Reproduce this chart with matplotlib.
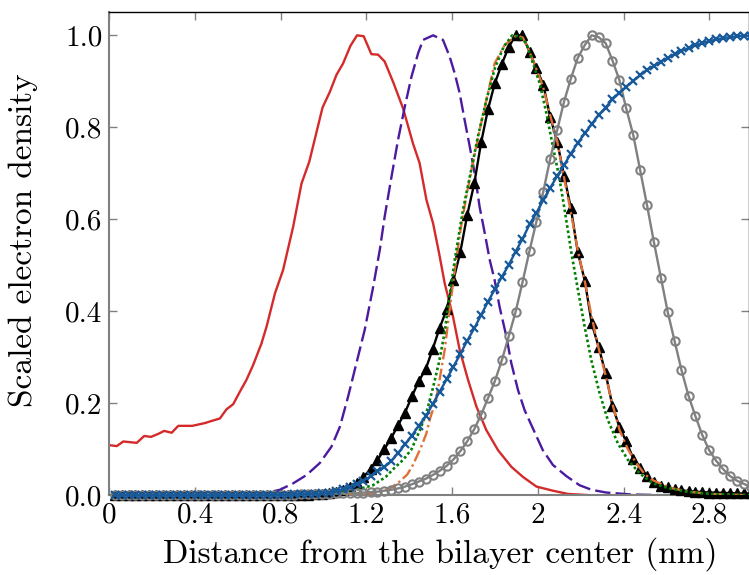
import numpy as np
import matplotlib
matplotlib.use("Agg")
import matplotlib.pyplot as plt

plt.rcParams['font.family'] = ['cmr10', 'DejaVu Serif']
plt.rcParams['mathtext.fontset'] = 'cm'
plt.rcParams['axes.formatter.use_mathtext'] = True

# ---------------- data ----------------
x_ticks = [0, 0.4, 0.8, 1.2, 1.6, 2.0, 2.4, 2.8]
x_ticklabels = ["0", "0.4", "0.8", "1.2", "1.6", "2", "2.4", "2.8"]
y_ticks = [0.0, 0.2, 0.4, 0.6, 0.8, 1.0]
y_ticklabels = ["0.0", "0.2", "0.4", "0.6", "0.8", "1.0"]

red_x = [0.0, 0.035, 0.065, 0.128, 0.163, 0.194, 0.226, 0.256, 0.291, 0.322, 0.387,
         0.446, 0.480, 0.516, 0.547, 0.578, 0.609, 0.640, 0.671, 0.710, 0.734, 0.773,
         0.811, 0.858, 0.897, 0.933, 0.995, 1.029, 1.060, 1.091, 1.125, 1.156, 1.187,
         1.223, 1.254, 1.285, 1.324, 1.371, 1.417, 1.448, 1.480, 1.511, 1.539, 1.565,
         1.604, 1.635, 1.674, 1.713, 1.759, 1.814, 1.876, 1.930, 1.993, 2.070, 2.140,
         2.250, 3.0]
red_y = [0.109, 0.107, 0.117, 0.114, 0.129, 0.127, 0.133, 0.140, 0.136, 0.151, 0.151,
         0.157, 0.162, 0.167, 0.187, 0.198, 0.225, 0.251, 0.283, 0.330, 0.367, 0.439,
         0.490, 0.584, 0.678, 0.725, 0.843, 0.877, 0.914, 0.939, 0.977, 1.000, 0.998,
         0.959, 0.958, 0.943, 0.899, 0.841, 0.765, 0.722, 0.642, 0.591, 0.526, 0.461,
         0.388, 0.316, 0.251, 0.193, 0.142, 0.098, 0.062, 0.040, 0.019, 0.010, 0.003,
         0.0, 0.0]

purple_x = [0.0, 0.6, 0.73, 0.796, 0.858, 0.920, 0.982, 1.037, 1.076, 1.114, 1.153,
            1.192, 1.23, 1.262, 1.285, 1.317, 1.347, 1.379, 1.410, 1.441, 1.464, 1.511,
            1.557, 1.588, 1.612, 1.635, 1.658, 1.682, 1.705, 1.728, 1.752, 1.775, 1.798,
            1.821, 1.853, 1.876, 1.907, 1.938, 1.977, 2.023, 2.070, 2.132, 2.194, 2.25,
            2.319, 2.43, 2.6, 3.0]
purple_y = [0.0, 0.001, 0.005, 0.012, 0.026, 0.044, 0.070, 0.106, 0.149, 0.214, 0.287,
            0.360, 0.450, 0.533, 0.606, 0.693, 0.772, 0.845, 0.910, 0.961, 0.990, 1.000,
            0.990, 0.954, 0.917, 0.874, 0.816, 0.758, 0.700, 0.627, 0.570, 0.512, 0.468,
            0.410, 0.345, 0.287, 0.229, 0.185, 0.145, 0.098, 0.066, 0.042, 0.022, 0.012,
            0.006, 0.002, 0.0, 0.0]

orange_x = [0.0, 1.0, 1.15, 1.23, 1.28, 1.309, 1.355, 1.39, 1.417, 1.456, 1.480, 1.495,
            1.526, 1.565, 1.588, 1.612, 1.64, 1.67, 1.70, 1.728, 1.76, 1.798, 1.845, 1.9,
            1.93, 1.96, 1.99, 2.023, 2.058, 2.09, 2.12, 2.152, 2.187, 2.221, 2.25, 2.283,
            2.316, 2.347, 2.381, 2.42, 2.459, 2.50, 2.536, 2.61, 2.70, 2.8, 3.0]
orange_y = [0.0, 0.0, 0.002, 0.005, 0.011, 0.015, 0.030, 0.045, 0.066, 0.106, 0.135, 0.164,
            0.210, 0.316, 0.403, 0.490, 0.580, 0.660, 0.730, 0.794, 0.860, 0.939, 0.979, 1.0,
            0.995, 0.965, 0.930, 0.890, 0.825, 0.770, 0.695, 0.620, 0.530, 0.460, 0.390, 0.320,
            0.260, 0.200, 0.142, 0.100, 0.070, 0.045, 0.033, 0.017, 0.008, 0.003, 0.0]

green_x = [0.0, 0.9, 1.0, 1.07, 1.153, 1.231, 1.29, 1.325, 1.371, 1.41, 1.448, 1.48,
           1.511, 1.539, 1.565, 1.588, 1.612, 1.65, 1.69, 1.72, 1.76, 1.80, 1.84, 1.88,
           1.91, 1.946, 1.977, 2.008, 2.04, 2.070, 2.10, 2.125, 2.156, 2.187, 2.218, 2.249,
           2.288, 2.326, 2.373, 2.420, 2.474, 2.536, 2.614, 2.69, 2.8, 3.0]
green_y = [0.0, 0.0, 0.002, 0.005, 0.012, 0.022, 0.040, 0.057, 0.077, 0.100, 0.140, 0.180,
           0.235, 0.290, 0.355, 0.435, 0.512, 0.620, 0.710, 0.780, 0.860, 0.930, 0.975, 1.0,
           0.998, 0.983, 0.939, 0.896, 0.830, 0.758, 0.690, 0.620, 0.528, 0.446, 0.367, 0.294,
           0.222, 0.164, 0.113, 0.077, 0.048, 0.026, 0.015, 0.008, 0.003, 0.0]

# common sampling grid of the marker curves (nm)
grid_x = np.round(np.linspace(0.025, 2.993, 93), 3)

black_y = [0.0] * 28 + [
    0.001, 0.002, 0.003, 0.004, 0.007, 0.011, 0.018, 0.027, 0.040, 0.057,
    0.076, 0.100, 0.124, 0.153, 0.180, 0.215, 0.248, 0.275, 0.318, 0.363,
    0.404, 0.468, 0.529, 0.609, 0.678, 0.767, 0.839, 0.896, 0.938, 0.975,
    1.000, 1.000, 0.964, 0.928, 0.893, 0.823, 0.769, 0.695, 0.624, 0.529,
    0.466, 0.374, 0.323, 0.265, 0.194, 0.149, 0.117, 0.080, 0.059, 0.042,
    0.030, 0.020, 0.017, 0.013, 0.011, 0.009, 0.008, 0.007, 0.006, 0.006,
    0.005, 0.005, 0.004, 0.004, 0.004]

gray_y = [0.0] * 25 + [
    0.001, 0.001, 0.002, 0.002, 0.002, 0.003, 0.003, 0.004, 0.004, 0.005,
    0.005, 0.006, 0.007, 0.008, 0.010, 0.012, 0.015, 0.019, 0.024, 0.030,
    0.036, 0.044, 0.053, 0.064, 0.078, 0.096, 0.117, 0.144, 0.175, 0.211,
    0.248, 0.294, 0.346, 0.399, 0.463, 0.532, 0.595, 0.660, 0.731, 0.794,
    0.856, 0.906, 0.951, 0.979, 1.000, 0.996, 0.983, 0.945, 0.903, 0.841,
    0.783, 0.707, 0.631, 0.551, 0.473, 0.398, 0.335, 0.272, 0.216, 0.172,
    0.131, 0.098, 0.075, 0.057, 0.042, 0.032, 0.025, 0.018]

blue_y = [0.0] * 21 + [
    0.001, 0.001, 0.001, 0.001, 0.001, 0.002, 0.002, 0.003, 0.003, 0.004,
    0.006, 0.009, 0.013, 0.019, 0.025, 0.032, 0.041, 0.052, 0.061, 0.074,
    0.092, 0.111, 0.130, 0.151, 0.172, 0.198, 0.225, 0.252, 0.280, 0.307,
    0.336, 0.363, 0.392, 0.421, 0.448, 0.475, 0.501, 0.530, 0.557, 0.589,
    0.614, 0.642, 0.668, 0.694, 0.718, 0.743, 0.766, 0.787, 0.807, 0.827,
    0.843, 0.861, 0.875, 0.888, 0.901, 0.913, 0.925, 0.933, 0.943, 0.951,
    0.959, 0.966, 0.972, 0.978, 0.983, 0.987, 0.991, 0.994, 0.996, 0.998,
    0.999, 0.999]

# ---------------- plot ----------------
W, H = 749, 575
fig = plt.figure(figsize=(W / 100, H / 100), dpi=100)
ax = fig.add_axes([109.3 / W, 1 - 495.3 / H, 1 - 109.3 / W, (495.3 - 12) / H])

ax.plot(red_x, red_y, color='#D42A2A', lw=1.7, zorder=2)
ax.plot(purple_x, purple_y, color='#4B1A9E', lw=1.7, dashes=(6.5, 2.2), zorder=2)
ax.plot(grid_x, black_y, color='black', lw=1.7, marker='^', ms=6.5, mfc='black',
        mec='black', clip_on=False, zorder=3)
ax.plot(orange_x, orange_y, color='#E07038', lw=1.7, dashes=(5, 1.5, 1, 1.5), zorder=4)
ax.plot(green_x, green_y, color='#008000', lw=1.9, dashes=(1, 1), zorder=4)
ax.plot(grid_x, gray_y, color='#808080', lw=1.7, marker='o', ms=6, mfc='none',
        mec='#808080', mew=1.5, clip_on=False, zorder=5)
ax.plot(grid_x, blue_y, color='#18599A', lw=1.7, marker='x', ms=6, mew=1.6,
        clip_on=False, zorder=6)

ax.set_xlim(0, 2.985)
ax.set_ylim(0, 1.0507)
ax.set_xticks(x_ticks)
ax.set_xticklabels(x_ticklabels)
ax.set_yticks(y_ticks)
ax.set_yticklabels(y_ticklabels)

ax.tick_params(direction='in', length=6, width=1, color='#808080',
               top=True, right=True, labelsize=21, pad=5)
for side in ['left', 'bottom']:
    ax.spines[side].set_color('#808080')
    ax.spines[side].set_linewidth(1.5)
for side in ['top', 'right']:
    ax.spines[side].set_color('black')
    ax.spines[side].set_linewidth(1.0)

ax.set_xlabel('Distance from the bilayer center (nm)', fontsize=24)
ax.set_ylabel('Scaled electron density', fontsize=24)
ax.xaxis.set_label_coords(0.518, -0.087)
ax.yaxis.set_label_coords(-0.112, 0.528)

fig.savefig('out.png', dpi=100)
